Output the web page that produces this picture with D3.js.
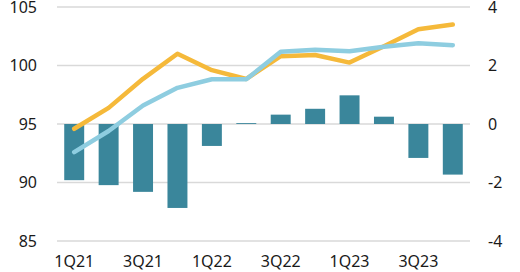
<!DOCTYPE html>
<html><head><meta charset="utf-8">
<script src="https://cdn.jsdelivr.net/npm/d3@7"></script>
<style>body{margin:0;background:#fff}svg{display:block}text{font-family:"Noto Sans","Open Sans",sans-serif;font-size:16px;fill:#1a1a1a}</style>
</head><body><svg id="c" width="520" height="272"></svg>
<script>
const quarters = ["1Q21","2Q21","3Q21","4Q21","1Q22","2Q22","3Q22","4Q22","1Q23","2Q23","3Q23","4Q23"];
const barValues = [-1.92,-2.09,-2.32,-2.87,-0.75,0.03,0.32,0.52,0.98,0.25,-1.16,-1.73];
const yellowLine = [94.59,96.38,98.86,101.0,99.6,98.85,100.8,100.9,100.25,101.65,103.1,103.5];
const blueLine = [92.6,94.4,96.58,98.09,98.82,98.82,101.18,101.35,101.22,101.6,101.9,101.74];
const leftTicks = [85,90,95,100,105];
const rightTicks = [-4,-2,0,2,4];
const xLabels = ["1Q21","3Q21","1Q22","3Q22","1Q23","3Q23"];

const svg = d3.select("#c");
const x = d3.scaleBand().domain(quarters).range([57,470]).paddingInner(0.42).paddingOuter(0.21);
const yL = d3.scaleLinear().domain([85,105]).range([241,7]);
const yR = d3.scaleLinear().domain([-4,4]).range([241,7]);

svg.append("g").selectAll("line").data(leftTicks).join("line")
  .attr("x1",57).attr("x2",470).attr("y1",d=>yL(d)).attr("y2",d=>yL(d))
  .attr("stroke","#d9d9d9").attr("stroke-width",1.5);

const fmt = d => String(d);
const axL = d3.axisLeft(yL).tickValues(leftTicks).tickFormat(fmt).tickSize(0).tickPadding(0);
const gL = svg.append("g").attr("transform","translate(37,0)").call(axL);
gL.select(".domain").remove();
gL.attr("font-family",null).attr("font-size",null);

const axR = d3.axisRight(yR).tickValues(rightTicks).tickFormat(fmt).tickSize(0).tickPadding(0);
const gR = svg.append("g").attr("transform","translate(488,0)").call(axR);
gR.select(".domain").remove();
gR.attr("font-family",null).attr("font-size",null);

const axB = d3.axisBottom(x).tickValues(xLabels).tickSize(0).tickPadding(0);
const gB = svg.append("g").attr("transform","translate(0,256)").call(axB);
gB.select(".domain").remove();
gB.attr("font-family",null).attr("font-size",null);

svg.append("g").selectAll("rect").data(barValues).join("rect")
  .attr("x",(d,i)=>x(quarters[i]))
  .attr("width",x.bandwidth())
  .attr("y",d=>Math.min(yR(d),yR(0)))
  .attr("height",d=>Math.abs(yR(d)-yR(0)))
  .attr("fill","#3a869b");

const cx = q => x(q)+x.bandwidth()/2;
const line = d3.line().x((d,i)=>cx(quarters[i])).y(d=>yL(d));
svg.append("path").datum(yellowLine).attr("d",line).attr("fill","none")
  .attr("stroke","#f5b93a").attr("stroke-width",4.5).attr("stroke-linejoin","round").attr("stroke-linecap","round");
svg.append("path").datum(blueLine).attr("d",line).attr("fill","none")
  .attr("stroke","#8ecde0").attr("stroke-width",4.5).attr("stroke-linejoin","round").attr("stroke-linecap","round");
</script></body></html>
